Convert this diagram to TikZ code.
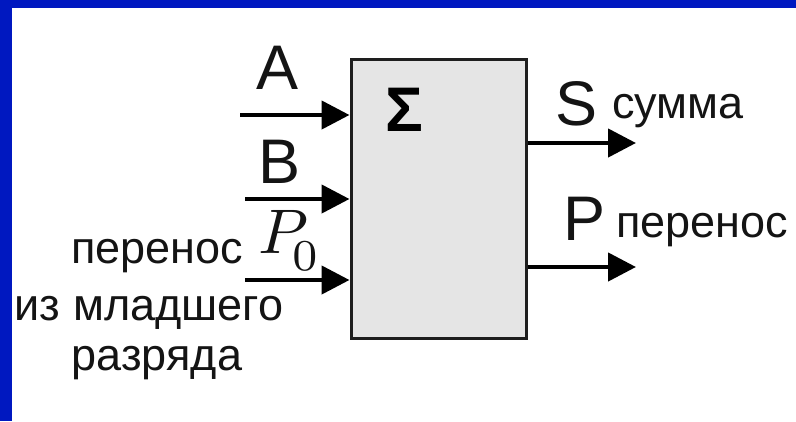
\documentclass[tikz,border=0pt]{standalone}
\usepackage{fontspec}
\usepackage{graphicx}
\setmainfont{Liberation Sans}
\usetikzlibrary{arrows.meta,calc}
\definecolor{frameblue}{RGB}{0,24,192}
\definecolor{boxfill}{RGB}{229,229,229}
\definecolor{boxline}{RGB}{30,30,30}
\definecolor{ink}{RGB}{20,20,20}
\tikzset{
  arr/.style={line width=4.5pt,-{Triangle[length=28pt,width=28pt]}},
  big/.style={inner sep=0pt,anchor=base,text=ink,font=\fontsize{63}{70}\selectfont},
  small/.style={inner sep=0pt,text=ink,font=\fontsize{45}{50}\selectfont},
}
\begin{document}
\begin{tikzpicture}[x=1pt,y=-1pt]
\useasboundingbox (0,0) rectangle (796,421);
\fill[white] (0,0) rectangle (796,421);
\fill[frameblue] (0,0) rectangle (796,8);
\fill[frameblue] (0,0) rectangle (12,421);
% box
\node[draw=boxline,fill=boxfill,line width=3pt,minimum width=175pt,minimum height=279pt,inner sep=0pt] (sum) at (438.5,198.5) {};
\node[inner sep=0pt,anchor=base,font=\bfseries\fontsize{63}{70}\selectfont] (sigma) at (404,131) {Σ};
% inputs
\coordinate (ina) at (240,115);
\coordinate (inb) at (245,199);
\coordinate (inp) at (245,280);
\draw[arr] (ina) -- (ina -| sum.west);
\draw[arr] (inb) -- (inb -| sum.west);
\draw[arr] (inp) -- (inp -| sum.west);
% outputs
\coordinate (outs) at (636,143);
\coordinate (outp) at (636,267);
\draw[arr] (outs -| sum.east) -- (outs);
\draw[arr] (outp -| sum.east) -- (outp);
% labels
\node[big] (la) at (278,89) {A};
\node[big] (lb) at (280,183) {B};
\node[big] (ls) at (577,125) {S};
\node[big] (lp) at (585,240) {P};
\node[small,anchor=base west] (lsum) at (612,118) {сумма};
\node[small,anchor=base west] (lcarry) at (616,237) {перенос};
\node[inner sep=0pt,anchor=base west,text=ink] (lp0) at (258,253) {\scalebox{6.4}[6.3]{$P_{\kern-1.1pt\lower1.2pt\hbox{$\scriptstyle 0$}}$}};
\node[small,anchor=base] (lin1) at (157,263) {перенос};
\node[small,anchor=base] (lin2) at (149,320) {из младшего};
\node[small,anchor=base] (lin3) at (157,370) {разряда};
\end{tikzpicture}
\end{document}
